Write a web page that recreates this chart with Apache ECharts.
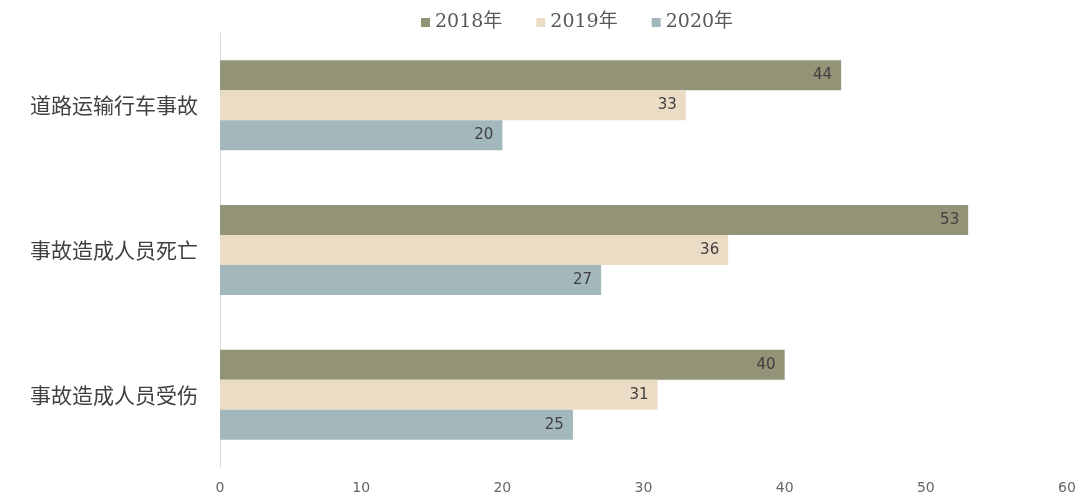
<!DOCTYPE html>
<html><head><meta charset="utf-8">
<script src="https://cdn.jsdelivr.net/npm/echarts@6/dist/echarts.min.js"></script>
<style>html,body{margin:0;padding:0;background:#fff}#c{width:1081px;height:496px}</style>
</head><body><div id="c"></div>
<script>
const categories = ['道路运输行车事故', '事故造成人员死亡', '事故造成人员受伤'];
const seriesNames = ['2018年', '2019年', '2020年'];
const values2018 = [44, 53, 40];
const values2019 = [33, 36, 31];
const values2020 = [20, 27, 25];
const colors = ['#939377', '#EBDDC5', '#A2B8BC'];
const chart = echarts.init(document.getElementById('c'));
const data = [values2018, values2019, values2020];
chart.setOption({
  animation: false,
  legend: {
    top: 8, left: 416, itemWidth: 9, itemHeight: 9, itemGap: 34,
    icon: 'rect',
    textStyle: { fontSize: 19, color: '#595959', fontFamily: 'DejaVu Serif, Noto Sans CJK SC' },
    data: seriesNames
  },
  grid: { left: 220, right: 14, top: 33, bottom: 29 },
  xAxis: {
    type: 'value', min: 0, max: 60, interval: 10,
    axisLine: { show: false }, axisTick: { show: false }, splitLine: { show: false },
    axisLabel: { color: '#666666', fontSize: 14, margin: 14, fontFamily: 'DejaVu Sans' }
  },
  yAxis: {
    type: 'category', data: categories, inverse: true,
    axisLine: { show: true, lineStyle: { color: '#d9d9d9' } }, axisTick: { show: false },
    axisLabel: { color: '#404040', fontSize: 21, margin: 22, fontFamily: 'Noto Sans CJK SC' }
  },
  series: seriesNames.map((n, i) => ({
    name: n, type: 'bar', data: data[i], barWidth: 30, barGap: '0%',
    itemStyle: { color: colors[i] },
    label: { show: true, position: 'insideRight', distance: 9, color: '#404040', fontSize: 15, fontFamily: 'DejaVu Sans' }
  }))
});
</script></body></html>
